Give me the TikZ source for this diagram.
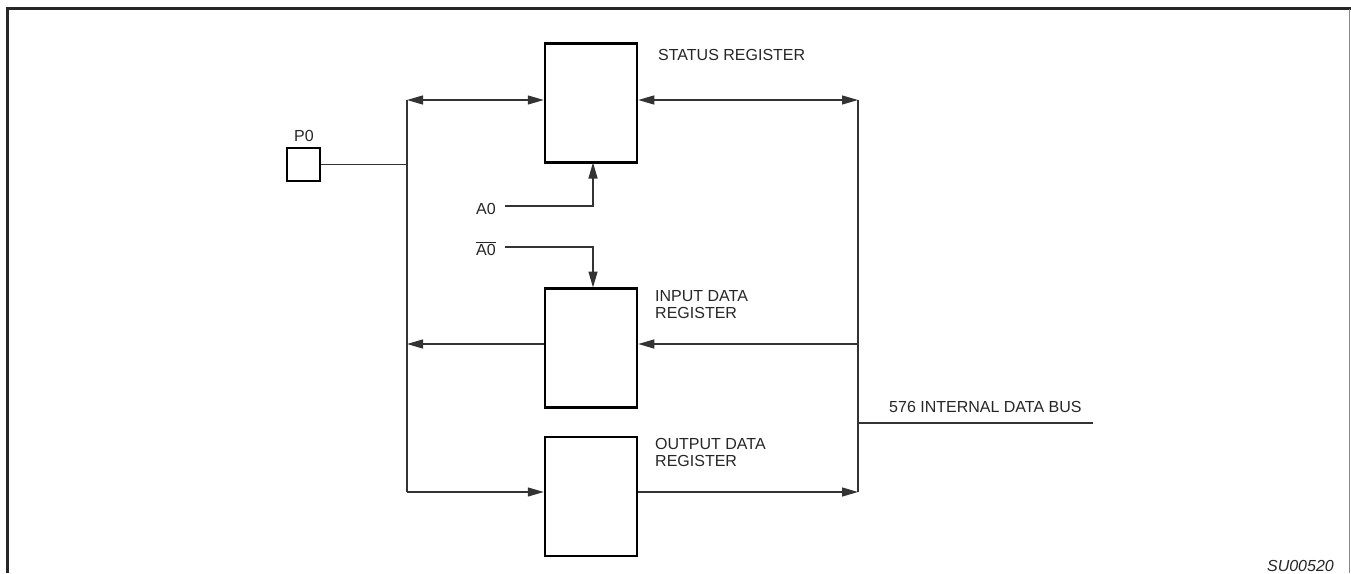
\documentclass[tikz,border=0pt]{standalone}
\usepackage{fontspec}
\setmainfont{Liberation Sans}
\usetikzlibrary{arrows.meta}
\begin{document}
\begin{tikzpicture}[x=1pt,y=-1pt,
  reg/.style={draw, line width=2.5pt, minimum width=92pt, minimum height=119pt, inner sep=0pt},
  pin/.style={draw, line width=2.5pt, minimum width=33pt, minimum height=33pt, inner sep=0pt},
  lbl/.style={inner sep=0pt, font=\fontsize{16}{17.5}\selectfont, text=black!85},
  wire/.style={line width=1.3pt, draw=black!80},
  tip/.style={-{Triangle[length=16pt,width=9pt]}},
  tips/.style={{Triangle[length=16pt,width=9pt]}-{Triangle[length=16pt,width=9pt]}}]
\useasboundingbox (0,0) rectangle (1351,573);
% frame
\draw[line width=2.6pt, draw=black!85] (7.5,573) -- (7.5,8.5) -- (1351,8.5);
\draw[line width=1pt, draw=black!45] (1349.5,9) -- (1349.5,573);
% registers
\node[reg] (st) at (591,103) {};
\node[reg] (in) at (591,348) {};
\node[reg] (out) at (591,496.5) {};
\node[pin] (p0) at (303.5,164.5) {};
% labels
\node[lbl, anchor=south] (p0l) at (304,142) {P0};
\node[lbl, anchor=west] (stl) at (658,55) {STATUS REGISTER};
\node[lbl, anchor=north west, align=left] (inl) at (655,290) {INPUT DATA\\REGISTER};
\node[lbl, anchor=north west, align=left] (outl) at (655,438) {OUTPUT DATA\\REGISTER};
\node[lbl, anchor=west] (busl) at (889,406.5) {576 INTERNAL DATA BUS};
\node[lbl, anchor=base west] (a0) at (476,214) {A0};
\node[lbl, anchor=base west] (a0n) at (476,255) {$\overline{\hbox{A0}}$};
\node[lbl, anchor=base east, font=\fontsize{16}{17.5}\selectfont\itshape] (su) at (1334,571) {SU00520};
% coordinates
\coordinate (lt) at (407,100);
\coordinate (lp) at (407,164.5);
\coordinate (li) at (407,344);
\coordinate (lo) at (407,492);
\coordinate (rt) at (858,100);
\coordinate (ri) at (858,344);
\coordinate (rb) at (858,423);
\coordinate (ro) at (858,492);
\coordinate (be) at (1093,423);
\coordinate (a0s) at (505,206);
\coordinate (a0ns) at (505,247);
% buses
\draw[wire] (lt) -- (lo);
\draw[wire] (rt) -- (ro);
\draw[wire] (rb) -- (be);
\draw[wire] (p0.east) -- (lp);
% arrows
\draw[wire, tips] (lt) -- (st.west |- lt);
\draw[wire, tips] (st.east |- rt) -- (rt);
\draw[wire, tip] (in.west |- li) -- (li);
\draw[wire, tip] (ri) -- (in.east |- ri);
\draw[wire, tip] (lo) -- (out.west |- lo);
\draw[wire, tip] (out.east |- ro) -- (ro);
\draw[wire, tip] (a0s) -- (593,206) -- (593,162.5);
\draw[wire, tip] (a0ns) -- (593,247) -- (593,287.5);
\end{tikzpicture}
\end{document}
